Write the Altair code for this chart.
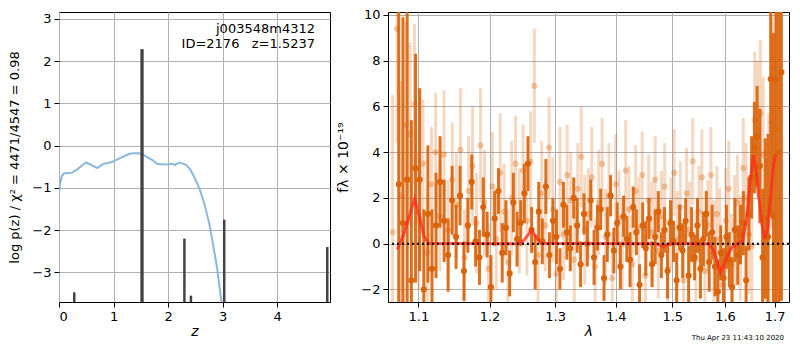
import altair as alt
import numpy as np
import pandas as pd

# ---------------- left panel: redshift PDF ----------------
z_grid = [0.0, 0.02, 0.05, 0.09, 0.15, 0.24, 0.33, 0.42, 0.5, 0.58, 0.7, 0.82, 0.9, 0.97,
          1.05, 1.15, 1.28, 1.35, 1.46, 1.55, 1.61, 1.7, 1.8, 1.87, 1.95, 2.02, 2.07, 2.13,
          2.2, 2.26, 2.32, 2.4, 2.47, 2.53, 2.59, 2.67, 2.75, 2.82, 2.9, 2.95, 3.0]
logp = [-1.1, -0.9, -0.72, -0.66, -0.65, -0.64, -0.57, -0.47, -0.40, -0.45, -0.53, -0.43,
        -0.41, -0.39, -0.34, -0.28, -0.20, -0.18, -0.18, -0.22, -0.27, -0.33, -0.43, -0.44,
        -0.45, -0.44, -0.43, -0.46, -0.40, -0.42, -0.45, -0.55, -0.72, -0.88, -1.07, -1.4,
        -1.81, -2.3, -2.9, -3.4, -3.9]

spike_z = [0.28, 1.515, 1.53, 2.30, 2.42, 3.03, 4.92]
spike_top = [-3.47, 2.28, 2.28, -2.2, -3.55, -1.75, -2.4]

z_ticks = [0, 1, 2, 3, 4]
logp_ticks = [-3, -2, -1, 0, 1, 2, 3]

# ---------------- right panel: spectrum ----------------
dark_flux = [
    2.6, 0.9, 2.8, -1.6, 3.3, 2.8, -2.0, 1.3, -1.1, 0.8,
    2.7, 1.0, -0.5, 1.9, 0.3, 2.1, -1.2, 0.8, 2.7, 0.1,
    -0.6, 1.6, 0.4, -1.9, 1.1, 2.3, -0.4, 0.7, -1.3, 1.8,
    0.2, 0.9, 2.2, 3.5, 0.6, -0.8, 1.4, 0.1, 2.5, -0.5,
    1.0, 0.3, -1.1, 1.7, 0.5, -0.2, 2.0, 0.8, -0.9, 1.3,
    0.0, 1.9, -0.6, 0.7, 1.5, -1.5, 0.4, 2.1, -0.3, 0.9,
    -1.0, 1.2, 0.2, -0.7, 1.6, 0.5, -1.8, 0.8, -0.2, 1.1,
    -0.9, 0.3, 1.4, -0.5, 0.6, -1.2, 0.9, 0.1, -1.6, 0.7,
    -0.3, 1.0, -1.4, 0.4, -0.6, 0.8, -1.1, 0.2, 1.3, -0.8,
    0.5, -1.0, -2.1, -0.4, -1.5, 0.3, -0.7, -1.9, 0.6, -0.5,
    0.4, 0.9, -1.6, 1.3, 2.9, 4.2, 4.7, 3.4, -0.6, 1.1,
    0.3, 7.2, 1.2, 7.2, 4.0, 7.5]
dark_err = [
    10, 9, 8, 7, 5, 4, 3.5, 3, 2.6, 2.3,
    2.0, 1.8, 1.6, 1.5, 1.4, 1.3, 1.3, 1.2, 1.2, 1.1,
    1.2, 1.3, 1.0, 1.4, 1.2, 1.0, 1.3, 1.2, 1.0, 1.3,
    1.2, 1.0, 1.3, 1.2, 1.0, 1.2, 1.3, 1.0, 1.2, 1.0,
    1.0, 1.2, 0.9, 1.0, 1.2, 1.0, 0.9, 1.2, 1.0, 0.9,
    1.0, 0.9, 1.2, 1.0, 0.9, 1.0, 1.2, 0.9, 1.0, 0.9,
    1.0, 0.9, 1.0, 1.2, 0.9, 1.0, 0.9, 1.0, 1.2, 0.9,
    1.0, 1.2, 0.9, 1.0, 1.0, 1.2, 1.0, 0.9, 1.2, 1.0,
    1.2, 1.0, 1.3, 1.2, 1.0, 1.2, 1.3, 1.2, 1.0, 1.3,
    1.2, 1.3, 1.4, 1.2, 1.3, 1.4, 1.2, 1.3, 1.4, 1.3,
    1.3, 1.4, 1.5, 1.6, 1.8, 2.0, 2.2, 2.5, 3.0, 3.5,
    4.5, 6, 8, 10, 10, 10]

light_flux = [
    0.5, 9.4, 2.1, 5.2, 4.8, 6.1, 1.0, 3.5, -0.4, 2.6,
    4.0, 1.2, 3.9, 0.6, 2.8, 1.7, 4.1, -0.6, 2.3, 3.4,
    0.9, 4.3, 1.8, -1.1, 2.5, 0.2, 3.1, 1.4, -0.8, 2.0,
    3.5, 1.0, 3.2, 1.0, 3.6, 6.9, -0.5, 2.2, 0.8, 4.2,
    1.5, -1.3, 2.7, 0.4, 3.0, 1.9, -0.7, 2.4, 3.8, 0.6,
    1.3, 2.9, -1.0, 1.8, 3.5, 0.3, 2.1, -1.5, 2.6, 1.1,
    0.0, 3.2, 1.5, -0.9, 2.3, 0.7, 3.0, -1.4, 1.9, 0.5,
    2.8, -0.3, 1.2, 2.5, -1.1, 0.9, 3.1, 0.2, 1.6, -1.6,
    2.2, 0.6, 3.6, -0.7, 1.4, 2.9, -1.2, 0.8, 3.0, -0.4,
    1.3, 0.2, -1.8, 1.0, 2.4, -0.9, 0.6, 1.8, -0.2, 3.3,
    2.0, 0.4, -0.1, 5.4, 5.0, 5.7, 3.9, -0.1, 1.5, 5.3,
    7.7, 5.0]
light_err = [
    6, 5, 5, 4.5, 4, 3.5, 3, 2.8, 2.6, 2.5,
    2.6, 2.4, 2.8, 2.2, 2.5, 2.3, 2.7, 2.1, 2.4, 2.6,
    2.2, 2.5, 2.3, 2.0, 2.4, 2.2, 2.6, 2.1, 2.3, 2.5,
    2.1, 2.3, 2.0, 2.4, 2.2, 2.5, 2.1, 2.3, 2.0, 2.2,
    2.3, 2.1, 2.4, 2.0, 2.2, 2.1, 2.3, 2.0, 2.2, 2.4,
    2.0, 2.2, 2.1, 2.3, 2.0, 2.1, 2.3, 2.0, 2.2, 2.1,
    2.0, 2.2, 1.9, 2.1, 2.0, 2.2, 1.9, 2.1, 2.0, 2.2,
    1.9, 2.1, 2.0, 1.9, 2.2, 2.0, 1.9, 2.1, 2.0, 2.2,
    2.0, 2.1, 1.9, 2.2, 2.0, 2.1, 2.2, 2.0, 2.1, 2.3,
    2.1, 2.2, 2.0, 2.3, 2.1, 2.2, 2.4, 2.1, 2.3, 2.2,
    2.4, 2.6, 2.8, 3.0, 3.0, 3.2, 3.4, 3.8, 4.2, 4.6,
    5.0, 5.0]

# wavelength sampling of the two spectra (microns)
dark_lam = np.linspace(1.074, 1.714, len(dark_flux))
light_lam = np.linspace(1.066, 1.705, len(light_flux))

model_lam = [1.072, 1.080, 1.087, 1.095, 1.102, 1.108, 1.114, 1.24, 1.250, 1.257, 1.263,
             1.270, 1.278, 1.47, 1.483, 1.495, 1.570, 1.578, 1.585, 1.591, 1.598, 1.606,
             1.614, 1.625, 1.634, 1.641, 1.648, 1.656, 1.662, 1.668, 1.674, 1.679, 1.685,
             1.692, 1.698, 1.702]
model_flux = [-0.25, 0.35, 1.1, 1.95, 1.1, 0.3, 0.02, 0.0, 0.1, 0.35, 0.59, 0.3, 0.02,
              0.0, -0.12, 0.0, 0.0, -0.3, -0.8, -1.24, -0.9, -0.45, -0.15, 0.0, 0.1, 0.8,
              2.3, 3.86, 3.2, 1.9, 0.8, 0.2, 0.6, 2.2, 3.5, 3.9]

lam_ticks = [1.1, 1.2, 1.3, 1.4, 1.5, 1.6, 1.7]
flux_ticks = [-2, 0, 2, 4, 6, 8, 10]

FONT = "DejaVu Sans"
DARK = "#d9640c"
W1, W2, H = 271, 401, 290
NB = "\u00a0"

# ---------------- build left ----------------
curve_df = pd.DataFrame({"z": z_grid, "logp": logp})
spike_df = pd.DataFrame({"z": spike_z, "logp": spike_top})

zscale = alt.Scale(domain=[0, 4.97], nice=False, zero=False)
lpscale = alt.Scale(domain=[-3.7, 3.16], nice=False, zero=False)
xz = alt.X("z:Q", scale=zscale,
           axis=alt.Axis(values=z_ticks, format="d", title="z", titleFontStyle="italic"))
ylp = alt.Y("logp:Q", scale=lpscale,
            axis=alt.Axis(values=logp_ticks, format="d", titleFontSize=13,
                          title="log p(z) / χ² = 4471/4547 = 0.98"))

curve = alt.Chart(curve_df).mark_line(color="#8bb8da", strokeWidth=2, clip=True).encode(x=xz, y=ylp)
spikes = alt.Chart(spike_df).mark_rule(color="#444444", strokeWidth=2.5, clip=True).encode(
    x=xz, y=ylp, y2=alt.value(H))
name_txt = alt.Chart(pd.DataFrame({"t": ["j003548m4312"]})).mark_text(
    align="right", baseline="alphabetic", font=FONT, fontSize=13, color="black").encode(
    x=alt.value(W1 - 15), y=alt.value(21), text="t:N")
id_txt = alt.Chart(pd.DataFrame({"t": ["ID=2176" + NB * 3 + "z=1.5237"]})).mark_text(
    align="right", baseline="alphabetic", font=FONT, fontSize=13, color="black").encode(
    x=alt.value(W1 - 15), y=alt.value(36), text="t:N")

left = alt.layer(curve, spikes, name_txt, id_txt).properties(width=W1, height=H)

# ---------------- build right ----------------
dark_df = pd.DataFrame({"lam": dark_lam, "f": dark_flux,
                        "lo": np.array(dark_flux) - np.array(dark_err),
                        "hi": np.array(dark_flux) + np.array(dark_err)})
light_df = pd.DataFrame({"lam": light_lam, "f": light_flux,
                         "lo": np.array(light_flux) - np.array(light_err),
                         "hi": np.array(light_flux) + np.array(light_err)})
model_df = pd.DataFrame({"lam": model_lam, "f": model_flux})

fscale = alt.Scale(domain=[-2.55, 10.13], nice=False, zero=False)
ftitle = "fλ × 10⁻¹⁹"
xl = alt.X("lam:Q", scale=alt.Scale(type="log", domain=[1.06, 1.73], nice=False, zero=False),
           axis=alt.Axis(values=lam_ticks, format=".1f", title="λ", titleFontStyle="italic"))
yf = alt.Y("f:Q", scale=fscale, axis=alt.Axis(values=flux_ticks, format="d", title=ftitle))
ylo = alt.Y("lo:Q", scale=fscale, axis=alt.Axis(values=flux_ticks, format="d", title=ftitle))

light_bars = alt.Chart(light_df).mark_rule(color=DARK, opacity=0.25, strokeWidth=3, clip=True).encode(
    x=xl, y=ylo, y2="hi:Q")
light_pts = alt.Chart(light_df).mark_circle(color=DARK, opacity=0.33, size=38, clip=True).encode(x=xl, y=yf)
dark_bars = alt.Chart(dark_df).mark_rule(color=DARK, opacity=0.92, strokeWidth=3, clip=True).encode(
    x=xl, y=ylo, y2="hi:Q")
dark_pts = alt.Chart(dark_df).mark_circle(color=DARK, opacity=1, size=38, clip=True).encode(x=xl, y=yf)
model = alt.Chart(model_df).mark_line(color="#ff2a1a", opacity=0.75, strokeWidth=3, clip=True).encode(x=xl, y=yf)
zero = alt.Chart(pd.DataFrame({"f": [0]})).mark_rule(color="black", strokeWidth=2, strokeDash=[2, 3]).encode(y=yf)
stamp = alt.Chart(pd.DataFrame({"t": ["Thu Apr 23 11:43:10 2020"]})).mark_text(
    align="right", baseline="middle", font=FONT, fontSize=7, color="black").encode(
    x=alt.value(W2 - 5), y=alt.value(H + 36), text="t:N")

right = alt.layer(light_bars, light_pts, dark_bars, dark_pts, model, zero, stamp).properties(width=W2, height=H)

chart = alt.hconcat(left, right, spacing=58, bounds="flush").configure_view(
    stroke="black", strokeWidth=1
).configure_axis(
    grid=True, gridColor="#b0b0b0", gridWidth=1, domain=False,
    tickColor="black", tickSize=5, labelFont=FONT, labelFontSize=13, labelColor="black",
    titleFont=FONT, titleFontSize=14, titleFontWeight="normal", titleColor="black",
    labelPadding=3
).configure_axisY(titlePadding=10).configure_axisX(titlePadding=1).properties(
    background="white", padding=0)

chart.save("out.html", embed_options={"renderer": "svg", "actions": False})
